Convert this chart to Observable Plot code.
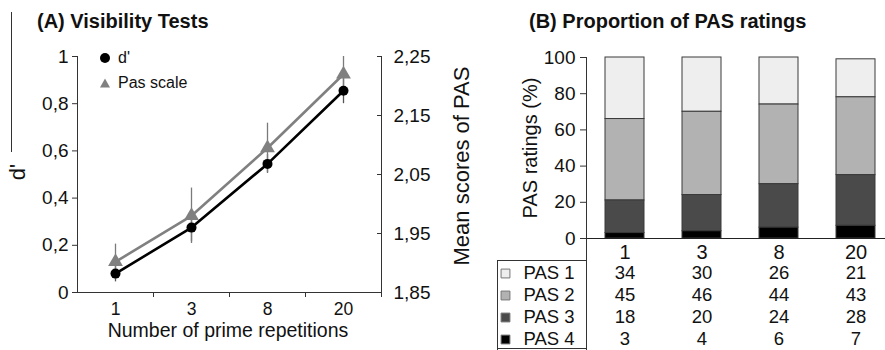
<!DOCTYPE html>
<html><head><meta charset="utf-8">
<script src="https://cdn.jsdelivr.net/npm/d3@7"></script>
<script src="https://cdn.jsdelivr.net/npm/@observablehq/plot@0.6"></script>
<style>
body{margin:0;background:#fff;font-family:"Liberation Sans",Arial,sans-serif;overflow:hidden;color:#111}
#wrap{position:relative;width:885px;height:350px;overflow:hidden}
.abs{position:absolute}
.title{font-weight:bold;font-size:20px;white-space:nowrap;line-height:1}
.leg{font-size:16px;white-space:nowrap;line-height:1;display:flex;align-items:center}
.leg svg{margin-right:7px}
.ln{position:absolute;background:#333}
.lab{position:absolute;white-space:nowrap;line-height:1;transform:translate(-50%,-50%)}
.rot{transform:translate(-50%,-50%) rotate(-90deg)}
</style></head><body>
<div id="wrap">
  <div id="pa" class="abs" style="left:0;top:0"></div>
  <div id="pbBars" class="abs" style="left:480px;top:0"></div>
  <div id="pbTable" class="abs" style="left:480px;top:238px"></div>
  <div class="abs title" style="left:37px;top:11px">(A) Visibility Tests</div>
  <div class="abs title" style="left:529px;top:11px">(B) Proportion of PAS ratings</div>
  <div class="abs leg" style="left:99px;top:50px"><svg width="12" height="12"><circle cx="6" cy="6" r="5" fill="#000"/></svg>d'</div>
  <div class="abs leg" style="left:99px;top:75px"><svg width="12" height="12"><path d="M6,1.5L11,10.5L1,10.5Z" fill="#808080"/></svg>Pas scale</div>
  <div class="lab rot" style="left:18px;top:172px;font-size:22px">d'</div>
  <div class="lab rot" style="left:462px;top:166px;font-size:22px">Mean scores of PAS</div>
  <div class="lab rot" style="left:530px;top:148px;font-size:20px">PAS ratings (%)</div>
  <div class="lab" style="left:228px;top:331px;font-size:19.5px">Number of prime repetitions</div>
  <div class="ln" style="left:11px;top:12px;width:1px;height:140px"></div>
  <div class="ln" style="left:497px;top:260px;width:89px;height:1px"></div>
  <div class="ln" style="left:497px;top:260px;width:1px;height:90px"></div>
  <div class="ln" style="left:497px;top:348px;width:89px;height:1px"></div>
</div>
<script>
// ---- Data ----
const categories = ["1", "3", "8", "20"];
const dPrime = [0.08, 0.275, 0.545, 0.855];
const dPrimeSE = [0.035, 0.06, 0.04, 0.055];
const pasMean = [1.902, 1.98, 2.095, 2.22];
const pasSE = [0.03, 0.047, 0.042, 0.03];
const leftTicks = [0, 0.2, 0.4, 0.6, 0.8, 1];
const rightTicks = [1.85, 1.95, 2.05, 2.15, 2.25];
const rightDomain = [1.85, 2.25];

const ratings = ["PAS 1", "PAS 2", "PAS 3", "PAS 4"];
const pas1 = [34, 30, 26, 21];
const pas2 = [45, 46, 44, 43];
const pas3 = [18, 20, 24, 28];
const pas4 = [3, 4, 6, 7];
const pctTicks = [0, 20, 40, 60, 80, 100];
const ratingColors = ["#eeeeee", "#b2b2b2", "#4a4a4a", "#000000"];

// ---- helpers ----
const font = "'Liberation Sans', Arial, sans-serif";
const comma = v => String(+v.toFixed(2)).replace(".", ",");
const toLeft = v => (v - rightDomain[0]) / (rightDomain[1] - rightDomain[0]);
const fromLeft = y => rightDomain[0] + y * (rightDomain[1] - rightDomain[0]);
const idx = categories.map((_, i) => i);

// ---- Panel A ----
const A = Plot.plot({
  width: 480, height: 350,
  marginLeft: 77, marginRight: 99, marginTop: 56, marginBottom: 58,
  style: {fontFamily: font, fontSize: "19px", color: "#111", background: "transparent", overflow: "visible"},
  x: {type: "band", domain: categories, padding: 0, axis: null},
  y: {domain: [0, 1], axis: null},
  marks: [
    Plot.frame({anchor: "left", stroke: "#333"}),
    Plot.frame({anchor: "right", stroke: "#333"}),
    Plot.frame({anchor: "bottom", stroke: "#333"}),
    Plot.axisY({ticks: leftTicks, tickSize: 5, tickPadding: 4, tickFormat: comma, label: null, stroke: "#333"}),
    Plot.axisY({anchor: "right", ticks: rightTicks.map(toLeft), tickSize: 5, dx: -5, tickFormat: () => "", label: null, stroke: "#333"}),
    Plot.axisY({anchor: "right", ticks: rightTicks.map(toLeft), tickSize: 0, tickPadding: 12, tickFormat: y => fromLeft(y).toFixed(2).replace(".", ","), label: null}),
    Plot.axisX({tickSize: 5, dx: 38, tickFormat: () => "", label: null, stroke: "#333"}),
    Plot.axisX({tickSize: 0, tickPadding: 10, label: null, fontSize: 17.5}),
    // error bars
    Plot.ruleX(idx, {x: i => categories[i], y1: i => dPrime[i] - dPrimeSE[i], y2: i => dPrime[i] + dPrimeSE[i], stroke: "#555", strokeWidth: 1.3}),
    Plot.ruleX(idx, {x: i => categories[i], y1: i => toLeft(pasMean[i] - pasSE[i]), y2: i => toLeft(pasMean[i] + pasSE[i]), stroke: "#7a7a7a", strokeWidth: 1.3}),
    // lines
    Plot.line(idx, {x: i => categories[i], y: i => dPrime[i], stroke: "#000", strokeWidth: 2.6}),
    Plot.line(idx, {x: i => categories[i], y: i => toLeft(pasMean[i]), stroke: "#808080", strokeWidth: 2.6}),
    Plot.dot(idx, {x: i => categories[i], y: i => dPrime[i], r: 5, fill: "#000"}),
    Plot.dot(idx, {x: i => categories[i], y: i => toLeft(pasMean[i]), symbol: "triangle", r: 5.5, fill: "#808080"})
  ]
});
document.getElementById("pa").appendChild(A);

// ---- Panel B bars ----
const barData = [];
categories.forEach((c, i) => {
  barData.push({cat: c, rating: "PAS 1", value: pas1[i]});
  barData.push({cat: c, rating: "PAS 2", value: pas2[i]});
  barData.push({cat: c, rating: "PAS 3", value: pas3[i]});
  barData.push({cat: c, rating: "PAS 4", value: pas4[i]});
});
const xRange = [106, 415];
const B = Plot.plot({
  width: 405, height: 262,
  marginLeft: 106, marginRight: 0, marginTop: 57, marginBottom: 24,
  style: {fontFamily: font, fontSize: "19px", color: "#111", background: "transparent"},
  x: {type: "band", domain: categories, range: xRange, paddingInner: 0.49, paddingOuter: 0.246, axis: null},
  y: {domain: [0, 100], axis: null},
  color: {domain: ratings, range: ratingColors},
  marks: [
    Plot.barY(barData, {x: "cat", y: "value", fill: "rating", order: ratings.slice().reverse(), stroke: "#3a3a3a", strokeWidth: 1}),
    Plot.ruleY([0], {stroke: "#222"}),
    Plot.frame({anchor: "left", stroke: "#333"}),
    Plot.axisY({ticks: pctTicks, tickSize: 6, tickPadding: 5, label: null, stroke: "#333"}),
    Plot.axisX({tickSize: 0, tickPadding: 6, label: null, fontSize: 20})
  ]
});
document.getElementById("pbBars").appendChild(B);

// ---- Panel B table ----
const T = Plot.plot({
  width: 405, height: 112,
  marginLeft: 106, marginRight: 0, marginTop: 0, marginBottom: 0,
  style: {fontFamily: font, fontSize: "18.5px", color: "#111", background: "transparent"},
  x: {type: "band", domain: categories, range: xRange, paddingInner: 0.49, paddingOuter: 0.246, axis: null},
  y: {type: "point", domain: ratings, range: [34, 101], padding: 0, axis: null},
  color: {domain: ratings, range: ratingColors},
  marks: [
    Plot.frame({anchor: "left", stroke: "#333"}),
    Plot.text(barData, {x: "cat", y: "rating", text: d => String(d.value)}),
    Plot.text(ratings, {y: d => d, text: d => d, frameAnchor: "left", dx: -63, textAnchor: "start"}),
    Plot.dot(ratings, {y: d => d, frameAnchor: "left", dx: -81, symbol: "square", r: 5, fill: d => d, stroke: "#777", strokeWidth: 1})
  ]
});
document.getElementById("pbTable").appendChild(T);
</script>
</body></html>
